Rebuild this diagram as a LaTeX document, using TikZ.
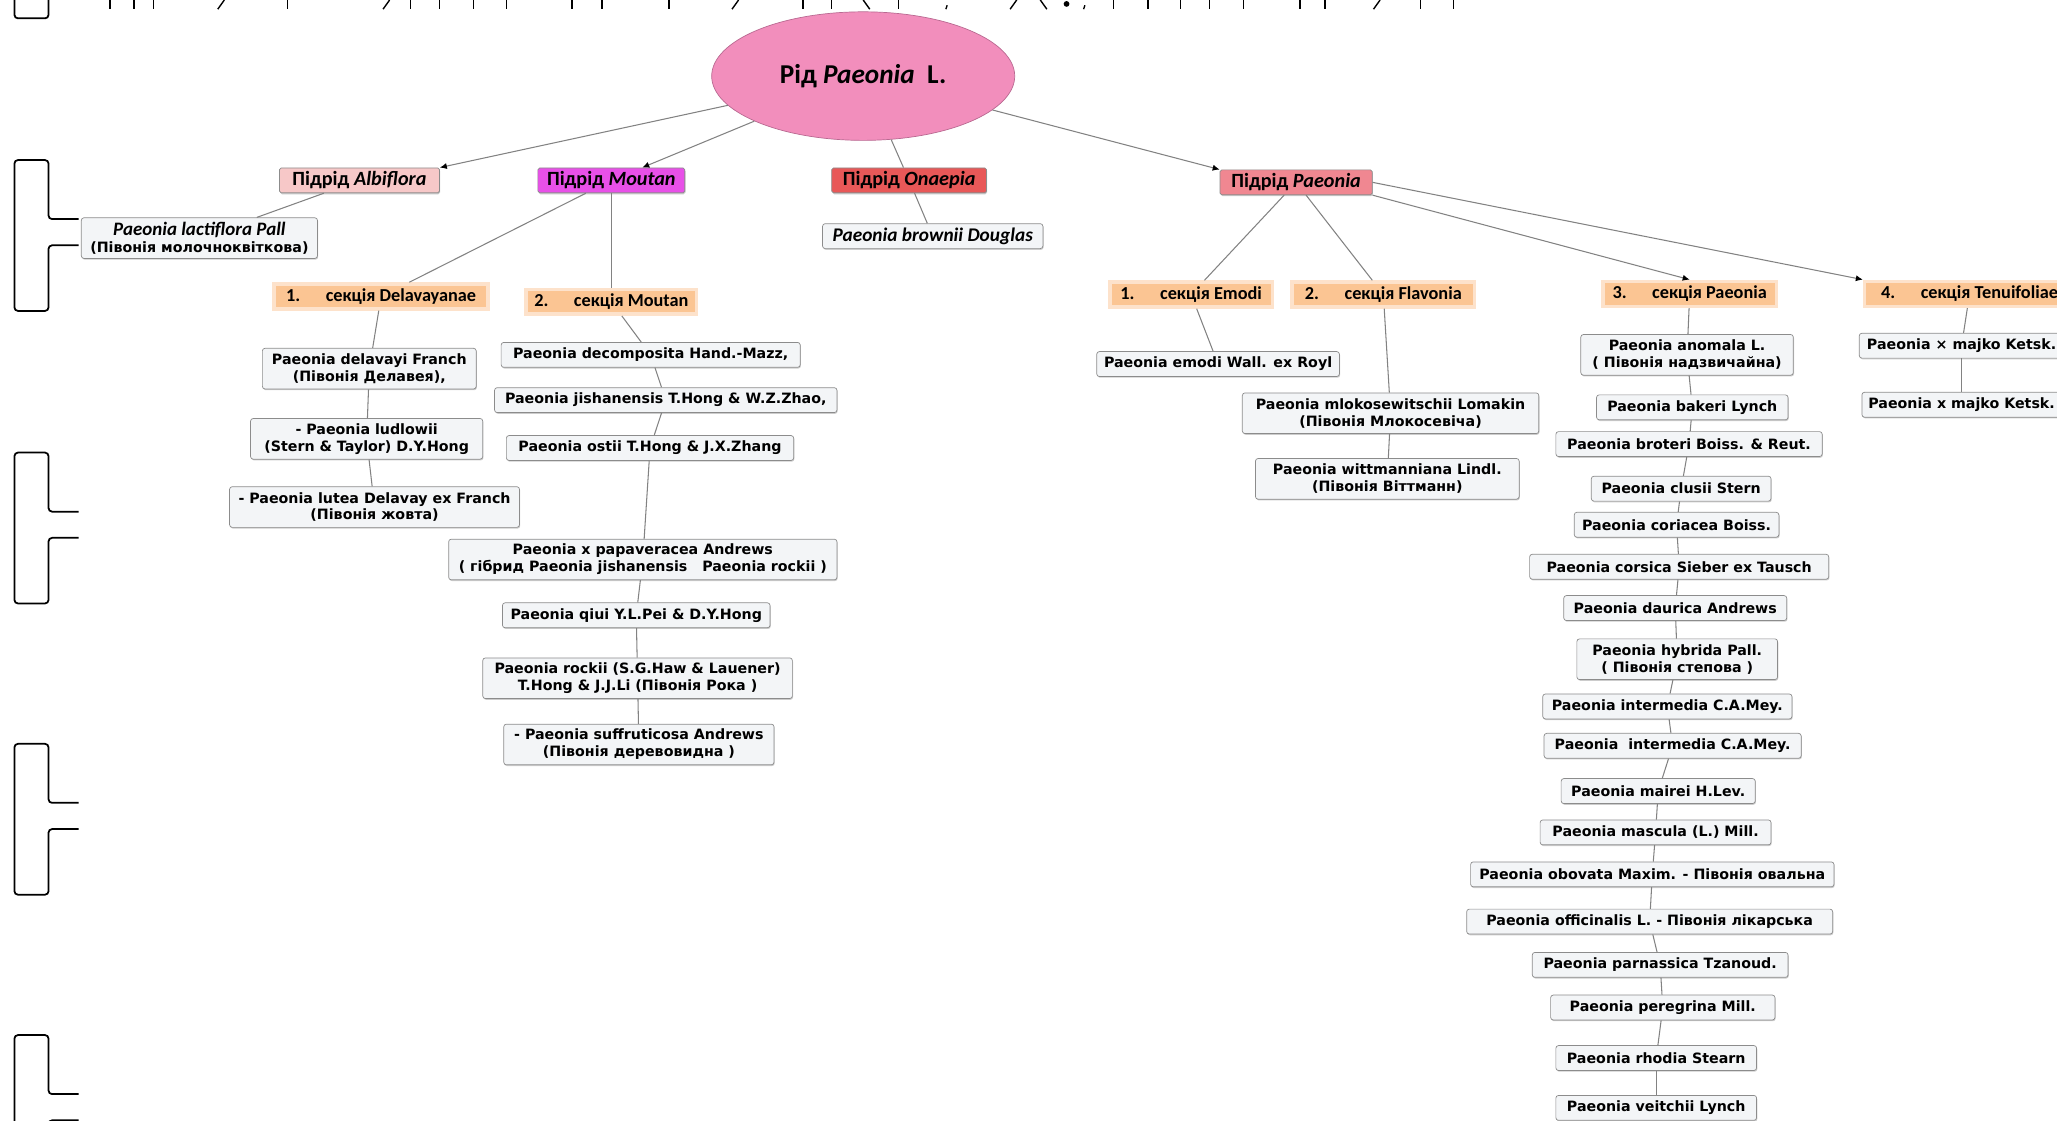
\documentclass[tikz,border=0pt]{standalone}
\usepackage{fontspec}
\setmainfont{DejaVu Sans}
\newfontfamily\carl{Carlito}
\usetikzlibrary{shapes.geometric, arrows.meta, shadows}

\newcommand\pxu{0.02624cm}

\definecolor{rootfill}{RGB}{242,142,188}
\definecolor{rootline}{RGB}{185,105,145}
\definecolor{albfill}{RGB}{247,200,200}
\definecolor{moufill}{RGB}{232,80,232}
\definecolor{onafill}{RGB}{232,88,88}
\definecolor{paefill}{RGB}{240,135,145}
\definecolor{secfill}{RGB}{251,197,147}
\definecolor{secglow}{RGB}{253,226,203}
\definecolor{leaffill}{RGB}{243,245,247}
\definecolor{leafline}{RGB}{140,140,140}
\definecolor{linkgray}{RGB}{130,130,130}

\tikzset{
    bw/.style={minimum width=#1*\pxu},
    root/.style={ellipse, draw=rootline, fill=rootfill, minimum width=231*\pxu,
        minimum height=98*\pxu, font=\carl\bfseries\fontsize{15.5}{18}\selectfont},
    subg/.style={rectangle, draw=leafline, rounded corners=1pt, minimum height=19*\pxu,
        inner sep=2pt, font=\carl\bfseries\fontsize{11.5}{13}\selectfont,
        drop shadow={shadow xshift=0.4pt, shadow yshift=-0.8pt, opacity=0.45}},
    sect/.style={rectangle, fill=secfill, draw=secglow, line width=2pt,
        minimum height=19*\pxu, inner sep=2pt,
        font=\carl\bfseries\fontsize{10.4}{12}\selectfont},
    leaf/.style={rectangle, draw=leafline, fill=leaffill, rounded corners=1.5pt,
        align=center, inner sep=2pt, minimum height=19*\pxu,
        font=\bfseries\fontsize{8.1}{9.6}\selectfont,
        drop shadow={shadow xshift=0.4pt, shadow yshift=-0.7pt, opacity=0.4}},
    twol/.style={minimum height=31*\pxu},
    link/.style={draw=linkgray, line width=0.6pt},
    arr/.style={link, -{Latex[color=black, length=4pt, width=3.5pt]}},
    bind/.style={draw=black, line width=1pt, rounded corners=2pt},
    tick/.style={draw=black, line width=0.8pt},
}

\begin{document}
\begin{tikzpicture}[x=\pxu, y=-\pxu]

    \useasboundingbox (0,0) rectangle (1568,854);
    \clip (0,0) rectangle (1568,854);

    % scan marks
    \foreach \t in {-101, 122, 345, 567, 789}
        \draw[bind] (60,\t+45) -- (37,\t+45) -- (37,\t) -- (11,\t)
            -- (11,\t+115) -- (37,\t+115) -- (37,\t+65) -- (60,\t+65);
    \foreach \x in {84, 102, 117, 219, 313, 335, 361, 386, 436, 459, 510, 612, 634,
                    685, 849, 875, 900, 922, 948, 991, 1010, 1083, 1108}
        \draw[tick] (\x,0) -- (\x,7);
    \foreach \x in {169, 295, 561, 773, 1050}
        \draw[tick] (\x-3,7) -- (\x+2,0);
    \foreach \x in {660, 795}
        \draw[tick] (\x-2,0) -- (\x+3,7);
    \foreach \x in {722, 827}
        \draw[tick] (\x,4) -- (\x-1,7);
    \fill (813,3) circle (2.2);

    % root and subgenera
    \node[root] (rid) at (658,58) {Рід \textit{Paeonia}\ \ L.};

    \node[subg, fill=albfill, bw=122] (albi) at (274,137.5) {Підрід \textit{Albiflora}};
    \node[subg, fill=moufill, bw=112] (mout) at (466,137.5) {Підрід \textit{Moutan}};
    \node[subg, fill=onafill, bw=118] (onae) at (693,137.5) {Підрід \textit{Onaepia}};
    \node[subg, fill=paefill, bw=116] (paeo) at (988,139) {Підрід \textit{Paeonia}};

    % sections
    \node[sect, bw=163] (sdel) at (290.5,226) {1.\hspace{1.4em}секція Delavayanae};
    \node[sect, bw=130] (smou) at (466,230) {2.\hspace{1.4em}секція Moutan};
    \node[sect, bw=124] (semo) at (908,224.5) {1.\hspace{1.4em}секція Emodi};
    \node[sect, bw=139] (sfla) at (1054.5,224.5) {2.\hspace{1.4em}секція Flavonia};
    \node[sect, bw=132] (spae) at (1288,224) {3.\hspace{1.4em}секція Paeonia};
    \node[sect, bw=160, anchor=west] (sten) at (1420,224) {4.\hspace{1.4em}секція Tenuifoliae};

    % subgenus Albiflora, Onaepia
    \node[leaf, twol, bw=180] (lact) at (152,181.5)
        {{\carl\itshape\fontsize{10.8}{11}\selectfont Paeonia lactiflora Pall}\\(Півонія молочноквіткова)};
    \node[leaf, bw=168, font=\carl\bfseries\itshape\fontsize{11}{12}\selectfont] (brow)
        at (711,180) {Paeonia brownii Douglas};

    % section Delavayanae
    \node[leaf, twol, bw=163] (dela) at (281.5,281) {Paeonia delavayi Franch\\(Півонія Делавея),};
    \node[leaf, twol, bw=177] (ludl) at (279.5,334.5) {- Paeonia ludlowii\\(Stern \& Taylor) D.Y.Hong};
    \node[leaf, twol, bw=221] (lute) at (285.5,386.5) {- Paeonia lutea Delavay ex Franch\\(Півонія жовта)};

    % section Moutan
    \node[leaf, bw=228] (deco) at (496,270.5) {Paeonia decomposita Hand.-Mazz,};
    \node[leaf, bw=261] (jish) at (507.5,305) {Paeonia jishanensis T.Hong \& W.Z.Zhao,};
    \node[leaf, bw=219] (osti) at (495.5,341.5) {Paeonia ostii T.Hong \& J.X.Zhang};
    \node[leaf, twol, bw=296] (papa) at (490,426.5)
        {Paeonia x papaveracea Andrews\\( гібрид Paeonia jishanensis\ \ \ Paeonia rockii )};
    \node[leaf, bw=204] (qiui) at (485,469) {Paeonia qiui Y.L.Pei \& D.Y.Hong};
    \node[leaf, twol, bw=236] (rock) at (486,517)
        {Paeonia rockii (S.G.Haw \& Lauener)\\T.Hong \& J.J.Li (Півонія Рока )};
    \node[leaf, twol, bw=206] (suff) at (487,567.5)
        {- Paeonia suffruticosa Andrews\\(Півонія деревовидна )};

    % sections Emodi, Flavonia
    \node[leaf, bw=185] (emod) at (928.5,277.5) {Paeonia emodi Wall. ex Royl};
    \node[leaf, twol, bw=226] (mlok) at (1060,315)
        {Paeonia mlokosewitschii Lomakin\\(Півонія Млокосевіча)};
    \node[leaf, twol, bw=201] (witt) at (1057.5,365)
        {Paeonia wittmanniana Lindl.\\(Півонія Віттманн)};

    % section Paeonia
    \node[leaf, twol, bw=162] (anom) at (1286,270.5) {Paeonia anomala L.\\( Півонія надзвичайна)};
    \node[leaf, bw=146] (bake) at (1290,310.5) {Paeonia bakeri Lynch};
    \node[leaf, bw=203] (brot) at (1287.5,338.5) {Paeonia broteri Boiss. \& Reut.};
    \node[leaf, bw=137] (clus) at (1281.5,372.5) {Paeonia clusii Stern};
    \node[leaf, bw=156] (cori) at (1278,400) {Paeonia coriacea Boiss.};
    \node[leaf, bw=228] (cors) at (1280,432) {Paeonia corsica Sieber ex Tausch};
    \node[leaf, bw=170] (daur) at (1277,463.5) {Paeonia daurica Andrews};
    \node[leaf, twol, bw=153] (hybr) at (1278.5,502.5) {Paeonia hybrida Pall.\\( Півонія степова )};
    \node[leaf, bw=190] (inta) at (1271,538.5) {Paeonia intermedia C.A.Mey.};
    \node[leaf, bw=196] (intb) at (1275,568.5) {Paeonia\ \ intermedia C.A.Mey.};
    \node[leaf, bw=148] (mair) at (1264,603) {Paeonia mairei H.Lev.};
    \node[leaf, bw=176] (masc) at (1262,634.5) {Paeonia mascula (L.) Mill.};
    \node[leaf, bw=277] (obov) at (1259.5,666.5) {Paeonia obovata Maxim. - Півонія овальна};
    \node[leaf, bw=279] (offi) at (1257.5,702.5) {Paeonia officinalis L. - Півонія лікарська};
    \node[leaf, bw=195] (parn) at (1265.5,735.5) {Paeonia parnassica Tzanoud.};
    \node[leaf, bw=171] (pere) at (1267.5,768) {Paeonia peregrina Mill.};
    \node[leaf, bw=153] (rhod) at (1262.5,806.5) {Paeonia rhodia Stearn};
    \node[leaf, bw=153] (veit) at (1262.5,844.5) {Paeonia veitchii Lynch};

    % section Tenuifoliae
    \node[leaf, bw=156, anchor=west] (maja) at (1417,263.5) {Paeonia × majko Ketsk.};
    \node[leaf, bw=152, anchor=west] (majb) at (1419,308.5) {Paeonia x majko Ketsk.};

    % connectors
    \draw[arr] (rid) -- (albi.north east);
    \draw[arr] (rid) -- (mout);
    \draw[link] (rid) -- (onae);
    \draw[arr] (rid) -- (paeo.north west);
    \draw[arr] (paeo.south east) -- (spae.north);
    \draw[arr] (paeo.east) -- (sten.north west);

    \foreach \a/\b in {albi/lact, onae/brow, mout/sdel, mout/smou, paeo/semo, paeo/sfla,
                       sdel/dela, dela/ludl, ludl/lute,
                       smou/deco, deco/jish, jish/osti, osti/papa, papa/qiui, qiui/rock, rock/suff,
                       semo/emod, sfla/mlok, mlok/witt,
                       spae/anom, anom/bake, bake/brot, brot/clus, clus/cori, cori/cors, cors/daur,
                       daur/hybr, hybr/inta, inta/intb, intb/mair, mair/masc, masc/obov, obov/offi,
                       offi/parn, parn/pere, pere/rhod, rhod/veit,
                       sten/maja, maja/majb}
        \draw[link] (\a) -- (\b);

\end{tikzpicture}
\end{document}
